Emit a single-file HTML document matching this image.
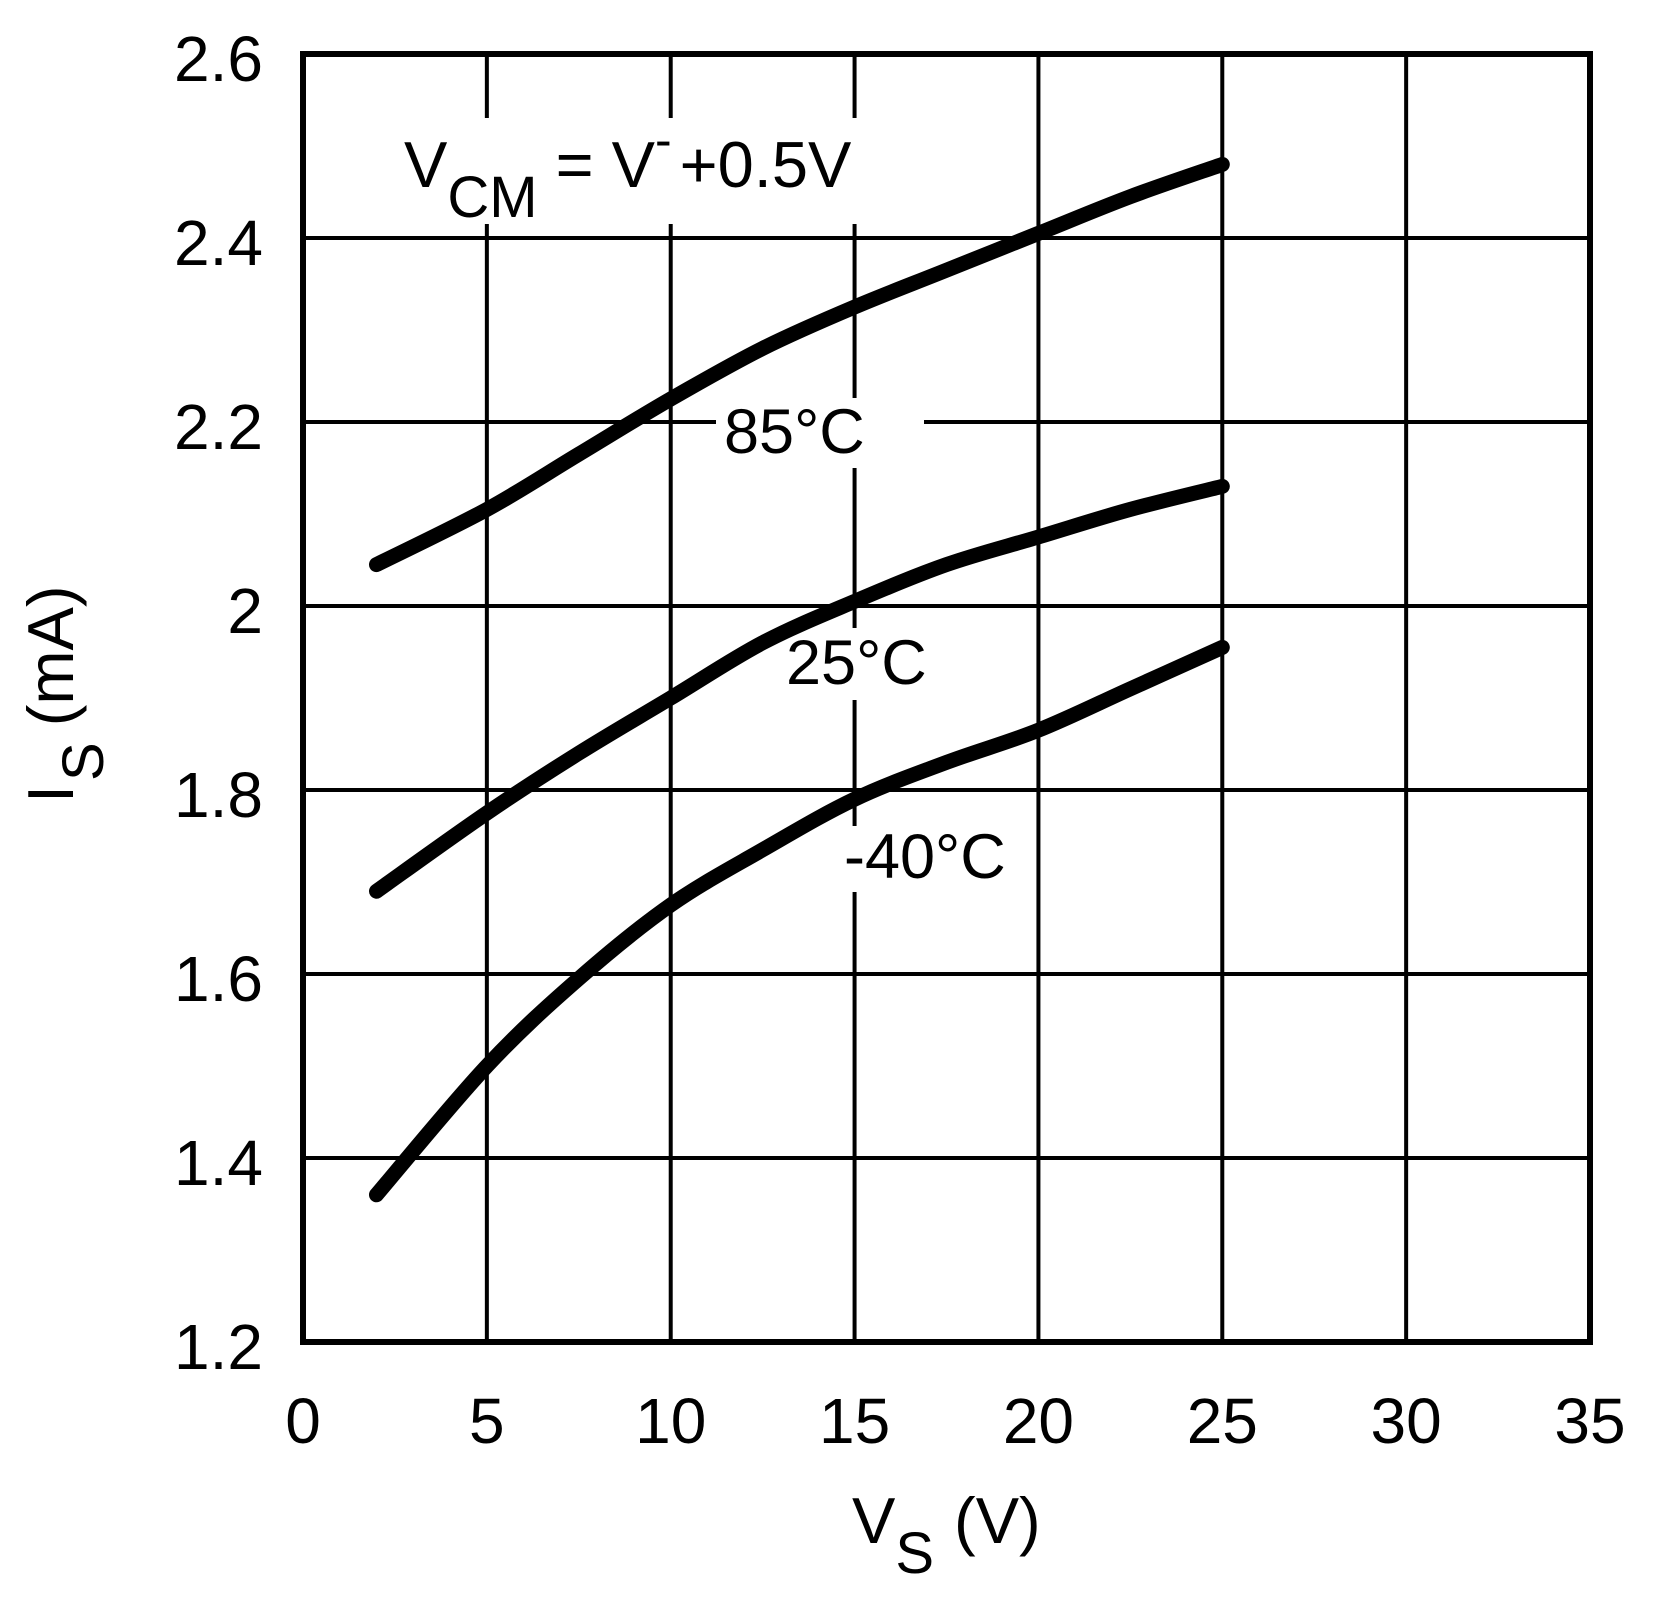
<!DOCTYPE html>
<html><head><meta charset="utf-8"><style>
html,body{margin:0;padding:0;background:#fff;}
svg{display:block;font-family:"Liberation Sans",Arial,sans-serif;}
</style></head><body>
<svg id="chart" width="1664" height="1606" viewBox="0 0 1664 1606" xmlns="http://www.w3.org/2000/svg">
<g id="grid"></g>
<g id="masks" fill="#fff">
<rect x="400" y="118" width="480" height="106"></rect>
<rect x="716" y="398" width="208" height="70"></rect>
<rect x="778" y="628" width="160" height="72"></rect>
<rect x="838" y="826" width="182" height="66"></rect>
</g>
<g id="series"></g>
<rect x="303" y="54" width="1287" height="1288" fill="none" stroke="#000" stroke-width="6"></rect>
<g id="ticks" font-size="64"></g>
<text x="404" y="187" font-size="65">V<tspan font-size="58" dy="30">CM</tspan><tspan dy="-30"> = V</tspan><tspan font-size="50" dy="-30">-</tspan><tspan dy="30" dx="8">+0.5V</tspan></text>
<text x="724" y="453" font-size="63">85°C</text>
<text x="786" y="684" font-size="63">25°C</text>
<text x="844" y="878" font-size="63">-40°C</text>
<text x="852" y="1543" font-size="65">V<tspan font-size="58" dy="30">S</tspan><tspan dy="-30" dx="20">(V)</tspan></text>
<text transform="translate(73,803) rotate(-90)" font-size="65">I<tspan font-size="58" dy="30" dx="4">S</tspan><tspan dy="-30" dx="16">(mA)</tspan></text>
</svg>
<script>
const xTicks=[0,5,10,15,20,25,30,35];
const yTicks=[1.2,1.4,1.6,1.8,2.0,2.2,2.4,2.6];
const yTickLabels=["1.2","1.4","1.6","1.8","2","2.2","2.4","2.6"];
const vs=[2,5,7.5,10,12.5,15,17.5,20,22.5,25];
const is85=[2.045,2.105,2.165,2.225,2.28,2.325,2.365,2.405,2.445,2.48];
const is25=[1.69,1.775,1.84,1.9,1.96,2.005,2.045,2.075,2.105,2.13];
const isM40=[1.36,1.5,1.595,1.675,1.735,1.79,1.83,1.865,1.91,1.955];
const NS="http://www.w3.org/2000/svg";
const X0=303,X1=1590,Y0=1342,Y1=54;
function sx(v){return X0+(v-0)/(35-0)*(X1-X0);}
function sy(v){return Y0-(v-1.2)/(2.6-1.2)*(Y0-Y1);}
function mk(t,a,p){const e=document.createElementNS(NS,t);for(const k in a)e.setAttribute(k,a[k]);p.appendChild(e);return e;}
const grid=document.getElementById('grid'),ticks=document.getElementById('ticks'),series=document.getElementById('series');
xTicks.forEach(v=>{
 if(v>0&&v<35){const l=mk('line',{x1:sx(v),x2:sx(v),y1:Y1,y2:Y0,stroke:'#000','stroke-width':4},grid);
 
 }
 const t=mk('text',{x:sx(v),y:1443,'text-anchor':'middle'},ticks);t.textContent=String(v);
 
 
});
yTicks.forEach((v,i)=>{
 if(i>0&&i<yTicks.length-1){const l=mk('line',{x1:X0,x2:X1,y1:sy(v),y2:sy(v),stroke:'#000','stroke-width':4},grid);
 
 }
 const t=mk('text',{x:263,y:sy(v)+27,'text-anchor':'end'},ticks);t.textContent=yTickLabels[i];
 
 
});
function draw(arr,name){
 const P=vs.map((v,i)=>[sx(v),sy(arr[i])]);
 let d='M'+P[0][0].toFixed(1)+','+P[0][1].toFixed(1);
 for(let i=0;i<P.length-1;i++){
  const p0=P[Math.max(0,i-1)],p1=P[i],p2=P[i+1],p3=P[Math.min(P.length-1,i+2)];
  const c1=[p1[0]+(p2[0]-p0[0])/6,p1[1]+(p2[1]-p0[1])/6];
  const c2=[p2[0]-(p3[0]-p1[0])/6,p2[1]-(p3[1]-p1[1])/6];
  d+=' C'+c1[0].toFixed(1)+','+c1[1].toFixed(1)+' '+c2[0].toFixed(1)+','+c2[1].toFixed(1)+' '+p2[0].toFixed(1)+','+p2[1].toFixed(1);
 }
 const p=mk('path',{d:d,fill:'none',stroke:'#000','stroke-width':15,'stroke-linejoin':'round','stroke-linecap':'round'},series);
 
 
}
draw(is85,'curve-85c');draw(is25,'curve-25c');draw(isM40,'curve-minus40c');
</script>
</body></html>
